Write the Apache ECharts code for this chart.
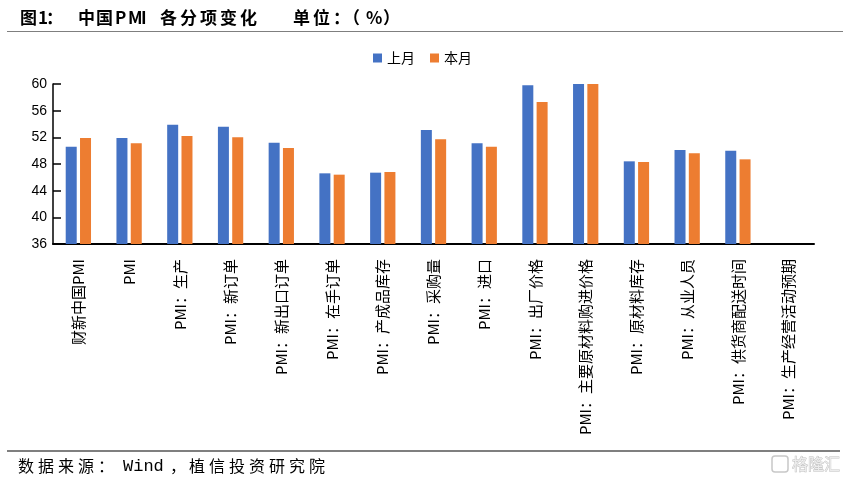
<!DOCTYPE html>
<html>
<head>
<meta charset="utf-8">
<script src="https://cdn.jsdelivr.net/npm/echarts@6/dist/echarts.min.js"></script>
<style>
html,body{margin:0;padding:0;background:#fff;}
#c{width:845px;height:479px;}
</style>
</head>
<body>
<div id="c"></div>
<script>
// ---- data ----
var categories = ['财新中国PMI','PMI','PMI：生产','PMI：新订单','PMI：新出口订单','PMI：在手订单','PMI：产成品库存','PMI：采购量','PMI：进口','PMI：出厂价格','PMI：主要原材料购进价格','PMI：原材料库存','PMI：从业人员','PMI：供货商配送时间','PMI：生产经营活动预期'];
var lastMonth = [50.6, 51.9, 53.9, 53.6, 51.2, 46.6, 46.7, 53.1, 51.1, 59.8, 69.4, 48.4, 50.1, 50.0, null];
var thisMonth = [51.9, 51.1, 52.2, 52.0, 50.4, 46.4, 46.8, 51.7, 50.6, 57.3, 66.9, 48.3, 49.6, 48.7, null];
var seriesNames = ['上月','本月'];
var yTicks = {min: 36, max: 60, interval: 4};

// ---- layout helpers ----
var CJK = '"Noto Sans CJK SC","Noto Sans",sans-serif';
function txt(s, x, y, font) {
  return {type: 'text', x: x, y: y, style: {text: s, font: font, fill: '#000', textVerticalAlign: 'middle'}, silent: true};
}
function run(s, x, y, pitch, font) {
  var out = [];
  for (var i = 0; i < s.length; i++) out.push(txt(s[i], x + i * pitch, y, font));
  return out;
}
var tf = 'bold 17px ' + CJK;
var sf = '16px ' + CJK;
var graphics = [];
// title: 图1：中国PMI各分项变化  单位：（%）
graphics = graphics.concat(
  run('图', 20, 18, 20, tf),
  [txt('1', 38, 18, tf), txt('：', 46, 18, tf)],
  run('中国', 78, 18, 18, tf),
  run('PMI', 115, 18, 13, tf),
  run('各分项变化', 160, 18, 20, tf),
  run('单位：', 293, 18, 20, tf),
  [txt('（', 343, 18, tf), txt('%', 366, 18, tf), txt('）', 383, 18, tf)]
);
// source: 数据来源：Wind，植信投资研究院
graphics = graphics.concat(
  run('数据来源：', 18, 466, 20, sf),
  [txt('Wind', 123, 466, '17px "Liberation Mono",monospace')],
  [txt('，', 170, 466, sf)],
  run('植信投资研究院', 189, 466, 20, sf)
);
// rules
graphics.push({type: 'line', shape: {x1: 7, y1: 31.5, x2: 843, y2: 31.5}, style: {stroke: '#7f7f7f', lineWidth: 1.2}, silent: true});
graphics.push({type: 'line', shape: {x1: 7, y1: 451, x2: 840, y2: 451}, style: {stroke: '#7f7f7f', lineWidth: 2}, silent: true});
// watermark
graphics.push({type: 'rect', shape: {x: 772, y: 456, width: 16, height: 16, r: 3}, style: {fill: 'none', stroke: '#c8c8c8', lineWidth: 1.5}, silent: true});
graphics.push({type: 'text', x: 792, y: 464, style: {text: '格隆汇', font: '16px ' + CJK, fill: '#ececec', stroke: '#bdbdbd', lineWidth: 0.8, textVerticalAlign: 'middle'}, silent: true});

var chart = echarts.init(document.getElementById('c'), null, {renderer: 'canvas'});
chart.setOption({
  animation: false,
  backgroundColor: '#fff',
  color: ['#4472C4', '#ED7D31'],
  legend: {
    data: seriesNames, top: 46, left: 'center', itemWidth: 9, itemHeight: 9, itemGap: 15, icon: 'rect',
    textStyle: {fontSize: 14, color: '#000', fontFamily: CJK}
  },
  grid: {left: 53, right: 31, top: 84, bottom: 235, containLabel: false},
  xAxis: {
    type: 'category', data: categories,
    axisLine: {lineStyle: {color: '#000', width: 2}},
    axisTick: {inside: true, length: 7, lineStyle: {color: '#000', width: 1.5}},
    axisLabel: {interval: 0, rotate: 90, fontSize: 15, color: '#000', margin: 15, fontFamily: CJK}
  },
  yAxis: {
    type: 'value', min: yTicks.min, max: yTicks.max, interval: yTicks.interval,
    axisLine: {show: true, lineStyle: {color: '#000', width: 1.5}},
    axisTick: {show: true, inside: true, length: 8, lineStyle: {color: '#000', width: 1.5}},
    splitLine: {show: false},
    axisLabel: {fontSize: 14, color: '#000', margin: 6, fontFamily: '"Liberation Sans",Arial,sans-serif'}
  },
  series: [
    {name: seriesNames[0], type: 'bar', data: lastMonth, barWidth: 11, barGap: '30%', clip: true},
    {name: seriesNames[1], type: 'bar', data: thisMonth, barWidth: 11, barGap: '30%', clip: true}
  ],
  graphic: {elements: graphics}
});
</script>
</body>
</html>
